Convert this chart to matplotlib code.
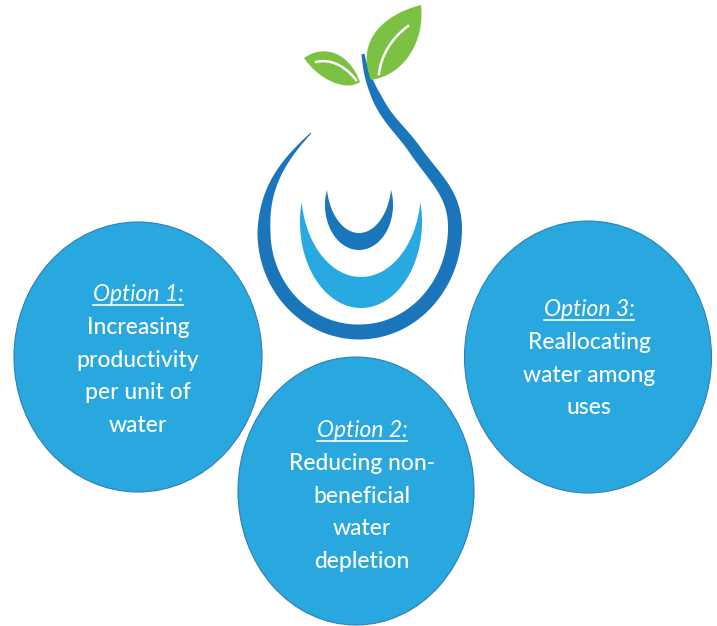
# Water options diagram

import numpy as np
import matplotlib.pyplot as plt
from matplotlib.patches import Ellipse, PathPatch
from matplotlib.path import Path

# texts
titles = ['Option 1:', 'Option 2:', 'Option 3:']
bodies = [['Increasing', 'productivity', 'per unit of', 'water'],
          ['Reducing non-', 'beneficial', 'water', 'depletion'],
          ['Reallocating', 'water among', 'uses']]

# layout in pixels (y down)
W, H = 717, 626
circle_xy = [(138, 357), (356, 491), (588, 357)]
circle_wh = [(248, 270), (236, 268), (247, 272)]
text_x = [138, 362, 589]
title_base = [301, 437, 316]
gap = 32.8

# colours
BLUE_DARK = '#1b75bb'
BLUE_LIGHT = '#29a9e1'
GREEN = '#7cc143'
CIRCLE = '#29a8e0'
EDGE = '#2f7fb5'
FONT = 'Lato'


def bezier(p0, p1, p2, p3, n=60):
    t = np.linspace(0, 1, n)[:, None]
    return ((1 - t) ** 3) * p0 + 3 * (1 - t) ** 2 * t * p1 + 3 * (1 - t) * t ** 2 * p2 + t ** 3 * p3


def hermite(knots, tangents, widths, k=0.39):
    pts, ws = [], []
    for i in range(len(knots) - 1):
        a, b = np.array(knots[i], float), np.array(knots[i + 1], float)
        ta = np.array(tangents[i], float); ta /= np.linalg.norm(ta)
        tb = np.array(tangents[i + 1], float); tb /= np.linalg.norm(tb)
        L = np.linalg.norm(b - a)
        seg = bezier(a, a + ta * L * k, b - tb * L * k, b)
        pts.append(seg[:-1]); ws.append(np.linspace(widths[i], widths[i + 1], len(seg))[:-1])
    pts.append(np.array([knots[-1]], float)); ws.append(np.array([widths[-1]]))
    return np.vstack(pts), np.concatenate(ws)


def ribbon(ax, pts, w, color):
    d = np.gradient(pts, axis=0)
    n = np.stack([-d[:, 1], d[:, 0]], axis=1)
    n /= np.linalg.norm(n, axis=1)[:, None]
    left = pts + n * w[:, None] / 2
    right = pts - n * w[:, None] / 2
    poly = np.vstack([left, right[::-1]])
    ax.fill(poly[:, 0], poly[:, 1], color=color, lw=0)


def crescent(ax, cx, tip_y, cy_o, rx_o, ry_o, cy_i, bottom_i, color):
    # outer arc, tip to tip through the bottom
    a = np.arcsin((tip_y - cy_o) / ry_o)
    th = np.linspace(np.pi - a, a, 150)
    outer = np.stack([cx + rx_o * np.cos(th), cy_o + ry_o * np.sin(th)], axis=1)
    half = rx_o * np.cos(a)
    # inner arc through the same tips
    ry_i = bottom_i - cy_i
    b = np.arcsin((tip_y - cy_i) / ry_i)
    rx_i = half / np.cos(b)
    ph = np.linspace(b, np.pi - b, 150)
    inner = np.stack([cx + rx_i * np.cos(ph), cy_i + ry_i * np.sin(ph)], axis=1)
    poly = np.vstack([outer, inner])
    ax.fill(poly[:, 0], poly[:, 1], color=color, lw=0)


def leaf(ax, verts, color):
    codes = [Path.MOVETO] + [Path.CURVE4] * 6 + [Path.CLOSEPOLY]
    ax.add_patch(PathPatch(Path(verts + [verts[0]], codes), fc=color, ec='none'))


fig = plt.figure(figsize=(W / 100, H / 100), dpi=100)
ax = fig.add_axes([0, 0, 1, 1])
ax.set_xlim(0, W)
ax.set_ylim(H, 0)
ax.axis('off')

# logo: drop outline
knots = [(311, 133), (264, 232), (359, 332), (455, 228), (415, 150), (378, 100), (363, 54)]
tangs = [(-1, 1), (0, 1), (1, 0), (0, -1), (-0.7, -1), (-0.5, -1), (-0.15, -1)]
wid = [1, 13, 15, 14, 12, 10, 3]
pts, w = hermite(knots, tangs, wid)
ribbon(ax, pts, w, BLUE_DARK)

# crescents
crescent(ax, 361, 202, 222, 61, 86, 190, 277, BLUE_LIGHT)
crescent(ax, 359, 190, 205, 34, 45, 180, 233, BLUE_DARK)

# leaves
leaf(ax, [(360, 82), (348, 50), (322, 45), (304, 58), (318, 79), (345, 92), (360, 82)], GREEN)
leaf(ax, [(371, 80), (355, 40), (385, 14), (421, 5), (425, 42), (404, 75), (371, 80)], GREEN)
ax.plot(*bezier(np.array([316., 62.]), np.array([332., 58.]), np.array([347., 68.]),
                np.array([356., 80.])).T, color='white', lw=1.8)
ax.plot(*bezier(np.array([379., 74.]), np.array([381., 55.]), np.array([392., 38.]),
                np.array([408., 26.])).T, color='white', lw=1.8)

# option circles
for (cx, cy), (cw, ch) in zip(circle_xy, circle_wh):
    ax.add_patch(Ellipse((cx, cy), cw, ch, fc=CIRCLE, ec=EDGE, lw=0.8))

r = fig.canvas.get_renderer()
inv = ax.transData.inverted()
for x, yb, title, lines in zip(text_x, title_base, titles, bodies):
    t = ax.text(x, yb, title, ha='center', va='baseline', color='white',
                fontsize=16.5, fontstyle='italic', family=FONT)
    bb = t.get_window_extent(r)
    x0 = inv.transform((bb.x0, bb.y0))[0]
    x1 = inv.transform((bb.x1, bb.y0))[0]
    ax.plot([x0, x1], [yb + 3.5, yb + 3.5], color='white', lw=1.2)
    for i, s in enumerate(lines):
        ax.text(x, yb + gap * (i + 1), s, ha='center', va='baseline', color='white',
                fontsize=16.5, fontweight='medium', family=FONT)

fig.savefig('out.png', dpi=100)
